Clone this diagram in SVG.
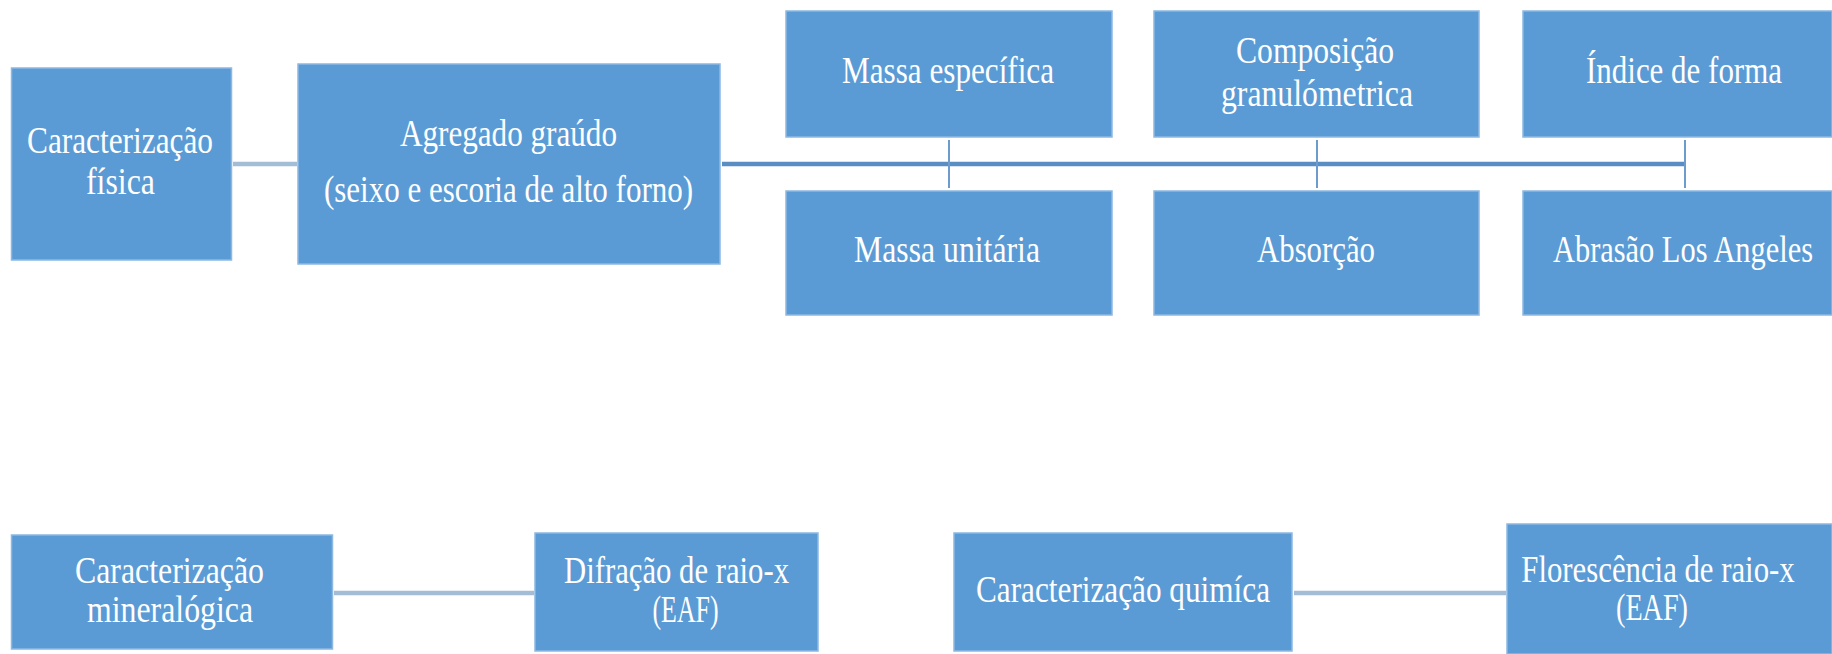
<svg xmlns="http://www.w3.org/2000/svg" width="1832" height="654" viewBox="0 0 1832 654">
<style>
.box{fill:#5B9BD5;stroke:#8DB8E2;stroke-width:1.5}
.t{fill:#FFFFFF;font-family:"Liberation Serif","Times New Roman",serif;font-size:38px;text-anchor:middle}
.lc{stroke:#A4BDD7;stroke-width:4.5;fill:none}
.mc{stroke:#5B8DC5;stroke-width:4.5;fill:none}
.vc{stroke:#6D9BCD;stroke-width:2;fill:none}
</style>
<rect width="1832" height="654" fill="#FFFFFF"/>
<g id="connectors">
<line class="lc" x1="233" y1="164" x2="297" y2="164"/>
<line class="mc" x1="722" y1="164" x2="1685" y2="164"/>
<line class="vc" x1="949" y1="140" x2="949" y2="188"/>
<line class="vc" x1="1317" y1="140" x2="1317" y2="188"/>
<line class="vc" x1="1685" y1="140" x2="1685" y2="188"/>
<line class="lc" x1="334" y1="593" x2="534" y2="593"/>
<line class="lc" x1="1294" y1="593" x2="1506" y2="593"/>
</g>
<g id="caracterizacao-fisica">
<rect class="box" x="11.5" y="68" width="220" height="192"/>
<text class="t" x="120" y="153" textLength="186" lengthAdjust="spacingAndGlyphs">Caracterização</text>
<text class="t" x="120.5" y="194" textLength="69" lengthAdjust="spacingAndGlyphs">física</text>
</g>
<g id="agregado-graudo">
<rect class="box" x="298" y="64" width="422" height="200"/>
<text class="t" x="508.5" y="146" textLength="217" lengthAdjust="spacingAndGlyphs">Agregado graúdo</text>
<text class="t" x="508.5" y="202" textLength="369" lengthAdjust="spacingAndGlyphs">(seixo e escoria de alto forno)</text>
</g>
<g id="massa-especifica">
<rect class="box" x="786" y="11" width="326" height="126"/>
<text class="t" x="948" y="83" textLength="212" lengthAdjust="spacingAndGlyphs">Massa específica</text>
</g>
<g id="composicao-granulometrica">
<rect class="box" x="1154" y="11" width="325" height="126"/>
<text class="t" x="1315" y="63" textLength="158" lengthAdjust="spacingAndGlyphs">Composição</text>
<text class="t" x="1317" y="106" textLength="192" lengthAdjust="spacingAndGlyphs">granulómetrica</text>
</g>
<g id="indice-de-forma">
<rect class="box" x="1523" y="11" width="309" height="126"/>
<text class="t" x="1684" y="83" textLength="196" lengthAdjust="spacingAndGlyphs">Índice de forma</text>
</g>
<g id="massa-unitaria">
<rect class="box" x="786" y="191" width="326" height="124"/>
<text class="t" x="947" y="262" textLength="186" lengthAdjust="spacingAndGlyphs">Massa unitária</text>
</g>
<g id="absorcao">
<rect class="box" x="1154" y="191" width="325" height="124"/>
<text class="t" x="1316" y="262" textLength="118" lengthAdjust="spacingAndGlyphs">Absorção</text>
</g>
<g id="abrasao-los-angeles">
<rect class="box" x="1523" y="191" width="309" height="124"/>
<text class="t" transform="translate(1683 262) scale(0.8 1)" x="0" y="0">Abrasão Los Angeles</text>
</g>
<g id="caracterizacao-mineralogica">
<rect class="box" x="11.5" y="535" width="321" height="114"/>
<text class="t" x="169.5" y="583" textLength="189" lengthAdjust="spacingAndGlyphs">Caracterização</text>
<text class="t" x="170" y="622" textLength="166" lengthAdjust="spacingAndGlyphs">mineralógica</text>
</g>
<g id="difracao-raio-x">
<rect class="box" x="535" y="533" width="283" height="118"/>
<text class="t" x="676.5" y="583" textLength="225" lengthAdjust="spacingAndGlyphs">Difração de raio-x</text>
<text class="t" x="685.5" y="622" textLength="66" lengthAdjust="spacingAndGlyphs">(EAF)</text>
</g>
<g id="caracterizacao-quimica">
<rect class="box" x="954" y="533" width="338" height="118"/>
<text class="t" x="1123" y="602" textLength="294" lengthAdjust="spacingAndGlyphs">Caracterização quimíca</text>
</g>
<g id="florescencia-raio-x">
<rect class="box" x="1507" y="524" width="325" height="130"/>
<text class="t" transform="translate(1658 582) scale(0.81 1)" x="0" y="0">Florescência de raio-x</text>
<text class="t" x="1652" y="620" textLength="72" lengthAdjust="spacingAndGlyphs">(EAF)</text>
</g>
</svg>
